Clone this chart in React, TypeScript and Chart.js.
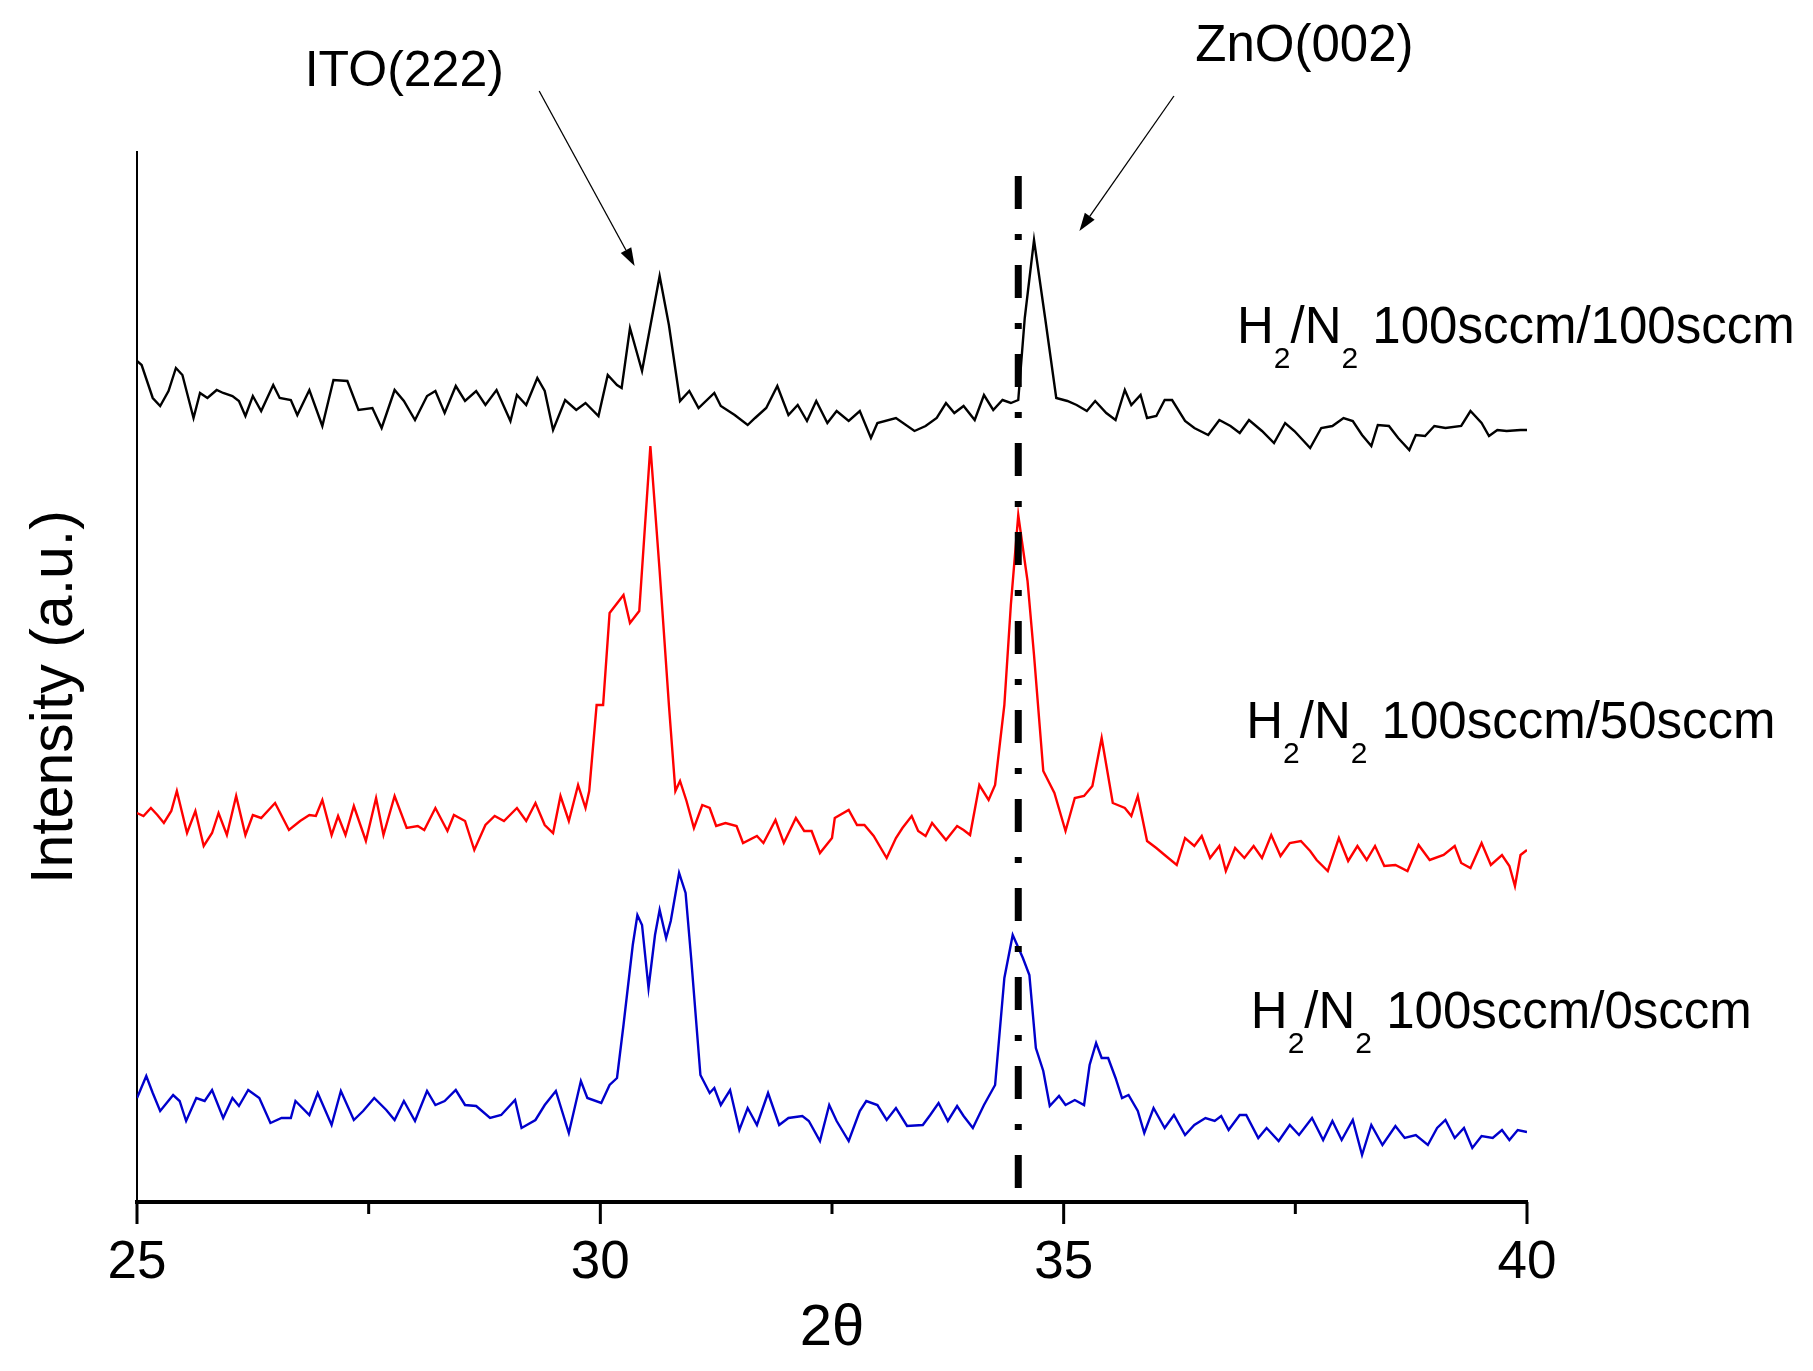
import React, { useEffect, useRef } from 'react';
import { Chart, registerables } from 'chart.js';

Chart.register(...registerables);

const FONT = '"Liberation Sans", Arial, sans-serif';

// x axis ticks (2θ, degrees)
const majorTicks = [25, 30, 35, 40];
const minorTicks = [27.5, 32.5, 37.5];

// H2/N2 flow of each sample, top to bottom
const gasFlows = ['100sccm/100sccm', '100sccm/50sccm', '100sccm/0sccm'];
const traceColors = ['#000000', '#ff0000', '#0000cc'];

// [2θ, intensity (a.u., offset per trace)]
const flow100: [number, number][] = [
  [25.0, 841], [25.05, 837], [25.17, 804], [25.25, 796], [25.34, 811], [25.42, 834], [25.49, 827], [25.61, 784],
  [25.68, 809], [25.76, 804], [25.86, 812], [25.93, 809], [26.03, 806], [26.1, 801], [26.17, 786], [26.25, 806],
  [26.34, 791], [26.47, 817], [26.54, 804], [26.66, 802], [26.73, 787], [26.86, 812], [27.0, 776], [27.12, 822],
  [27.27, 821], [27.39, 792], [27.54, 794], [27.64, 774], [27.78, 812], [27.88, 801], [28.0, 782], [28.13, 806],
  [28.22, 811], [28.32, 789], [28.44, 816], [28.54, 801], [28.66, 811], [28.76, 797], [28.88, 812], [29.03, 781],
  [29.1, 807], [29.2, 797], [29.32, 824], [29.4, 811], [29.49, 772], [29.62, 802], [29.74, 792], [29.84, 799],
  [29.98, 786], [30.08, 827], [30.18, 817], [30.23, 814], [30.32, 874], [30.45, 831], [30.64, 926], [30.74, 877],
  [30.86, 801], [30.96, 811], [31.06, 794], [31.23, 809], [31.3, 796], [31.45, 787], [31.59, 777], [31.67, 784],
  [31.79, 794], [31.91, 816], [32.03, 787], [32.13, 797], [32.23, 781], [32.33, 801], [32.45, 779], [32.55, 791],
  [32.68, 781], [32.8, 791], [32.92, 764], [32.99, 779], [33.19, 784], [33.39, 771], [33.51, 776], [33.63, 784],
  [33.73, 799], [33.82, 789], [33.92, 796], [34.04, 782], [34.14, 807], [34.24, 792], [34.34, 802], [34.43, 799],
  [34.51, 802], [34.58, 884], [34.68, 962], [34.8, 884], [34.92, 804], [35.04, 801], [35.14, 797], [35.25, 791],
  [35.34, 801], [35.46, 789], [35.56, 782], [35.66, 812], [35.73, 797], [35.83, 807], [35.9, 784], [36.0, 786],
  [36.09, 802], [36.17, 802], [36.31, 781], [36.41, 774], [36.56, 767], [36.68, 782], [36.8, 776], [36.9, 769],
  [37.0, 782], [37.14, 771], [37.27, 759], [37.39, 779], [37.49, 771], [37.66, 754], [37.78, 774], [37.9, 776],
  [38.02, 784], [38.12, 781], [38.22, 767], [38.32, 756], [38.39, 777], [38.51, 776], [38.61, 764], [38.73, 752],
  [38.8, 767], [38.9, 766], [39.0, 776], [39.12, 774], [39.29, 776], [39.39, 791], [39.51, 779], [39.59, 766],
  [39.68, 772], [39.78, 771], [39.93, 772], [40.0, 772],
];

const flow50: [number, number][] = [
  [25.0, 389], [25.07, 386], [25.15, 394], [25.22, 387], [25.29, 379], [25.37, 391], [25.43, 411], [25.54, 369],
  [25.63, 391], [25.72, 356], [25.81, 369], [25.88, 389], [25.97, 367], [26.07, 406], [26.17, 367], [26.25, 387],
  [26.34, 384], [26.49, 399], [26.64, 372], [26.76, 381], [26.86, 387], [26.93, 386], [27.0, 402], [27.1, 367],
  [27.17, 386], [27.25, 367], [27.34, 396], [27.47, 361], [27.58, 404], [27.66, 367], [27.78, 406], [27.91, 374],
  [28.03, 376], [28.1, 372], [28.22, 394], [28.35, 371], [28.42, 387], [28.54, 381], [28.64, 352], [28.76, 377],
  [28.86, 386], [28.96, 381], [29.1, 394], [29.2, 381], [29.3, 399], [29.4, 377], [29.49, 369], [29.57, 406],
  [29.66, 381], [29.76, 417], [29.84, 394], [29.88, 411], [29.96, 497], [30.03, 497], [30.1, 589], [30.25, 607],
  [30.32, 579], [30.42, 591], [30.54, 756], [30.64, 631], [30.74, 497], [30.81, 411], [30.86, 421], [30.93, 401],
  [31.01, 374], [31.1, 397], [31.18, 394], [31.25, 376], [31.35, 379], [31.47, 376], [31.54, 359], [31.69, 366],
  [31.76, 359], [31.89, 382], [31.98, 359], [32.11, 384], [32.2, 371], [32.28, 371], [32.37, 349], [32.5, 364],
  [32.53, 384], [32.68, 392], [32.77, 377], [32.85, 377], [32.95, 366], [33.09, 344], [33.19, 364], [33.26, 374],
  [33.36, 386], [33.43, 371], [33.51, 366], [33.58, 379], [33.73, 362], [33.85, 376], [33.92, 372], [33.99, 367],
  [34.09, 417], [34.19, 402], [34.26, 417], [34.36, 497], [34.43, 597], [34.51, 687], [34.61, 621], [34.68, 547],
  [34.78, 431], [34.9, 409], [35.02, 371], [35.12, 404], [35.22, 406], [35.31, 416], [35.41, 464], [35.53, 399],
  [35.66, 394], [35.73, 386], [35.8, 406], [35.9, 361], [36.0, 354], [36.09, 347], [36.22, 337], [36.31, 364],
  [36.41, 356], [36.49, 366], [36.58, 344], [36.68, 356], [36.75, 331], [36.85, 354], [36.95, 344], [37.05, 356],
  [37.14, 344], [37.24, 367], [37.34, 346], [37.44, 359], [37.56, 361], [37.66, 351], [37.73, 342], [37.85, 331],
  [37.97, 364], [38.07, 341], [38.17, 356], [38.27, 342], [38.36, 356], [38.46, 336], [38.58, 337], [38.71, 331],
  [38.83, 357], [38.95, 342], [39.1, 347], [39.22, 356], [39.29, 339], [39.39, 334], [39.51, 359], [39.61, 337],
  [39.73, 347], [39.81, 336], [39.87, 316], [39.93, 347], [40.0, 352],
];

const flow0: [number, number][] = [
  [25.0, 104], [25.1, 126], [25.17, 109], [25.25, 91], [25.32, 99], [25.39, 107], [25.46, 101], [25.53, 81],
  [25.64, 104], [25.73, 101], [25.81, 112], [25.93, 84], [26.03, 104], [26.1, 96], [26.2, 112], [26.32, 104],
  [26.44, 79], [26.56, 84], [26.66, 84], [26.71, 101], [26.86, 87], [26.95, 109], [27.1, 77], [27.2, 111],
  [27.34, 82], [27.44, 91], [27.56, 104], [27.69, 92], [27.78, 82], [27.88, 101], [28.0, 81], [28.13, 111],
  [28.22, 97], [28.32, 101], [28.44, 112], [28.54, 97], [28.66, 96], [28.81, 84], [28.93, 87], [29.08, 102],
  [29.15, 74], [29.3, 82], [29.4, 97], [29.52, 111], [29.66, 69], [29.79, 121], [29.86, 104], [30.01, 99],
  [30.1, 117], [30.18, 124], [30.25, 177], [30.35, 257], [30.4, 287], [30.45, 277], [30.52, 214], [30.59, 267],
  [30.64, 292], [30.71, 264], [30.76, 281], [30.85, 329], [30.92, 309], [30.98, 244], [31.08, 127], [31.18, 109],
  [31.23, 114], [31.3, 97], [31.4, 112], [31.5, 72], [31.59, 94], [31.69, 77], [31.81, 109], [31.93, 77],
  [32.03, 84], [32.18, 86], [32.25, 81], [32.37, 61], [32.47, 97], [32.55, 81], [32.68, 61], [32.8, 91],
  [32.87, 101], [32.99, 97], [33.09, 82], [33.19, 94], [33.31, 76], [33.48, 77], [33.56, 87], [33.65, 99],
  [33.75, 81], [33.85, 96], [33.92, 86], [34.02, 74], [34.14, 97], [34.26, 117], [34.36, 224], [34.45, 267],
  [34.56, 244], [34.63, 227], [34.7, 154], [34.78, 131], [34.85, 96], [34.95, 106], [35.02, 97], [35.12, 102],
  [35.22, 97], [35.28, 137], [35.35, 159], [35.41, 144], [35.48, 144], [35.56, 124], [35.63, 104], [35.7, 107],
  [35.8, 91], [35.87, 69], [35.97, 94], [36.09, 74], [36.19, 87], [36.31, 67], [36.41, 77], [36.53, 84],
  [36.63, 81], [36.7, 86], [36.78, 72], [36.9, 87], [36.97, 87], [37.1, 64], [37.19, 74], [37.32, 61],
  [37.44, 77], [37.54, 67], [37.68, 84], [37.8, 62], [37.9, 81], [38.0, 62], [38.12, 82], [38.22, 47],
  [38.32, 77], [38.44, 57], [38.58, 76], [38.68, 64], [38.8, 67], [38.93, 57], [39.03, 74], [39.12, 82],
  [39.22, 64], [39.32, 74], [39.41, 54], [39.51, 66], [39.63, 64], [39.73, 72], [39.81, 62], [39.9, 72],
  [40.0, 70],
];

const traces = [flow100, flow50, flow0];

// reference position of ZnO(002)
const zno002Angle = 34.51;

// annotation anchors in data units [2θ, intensity]
const labelAnchors: [number, number][] = [[36.87, 859], [36.97, 464], [37.02, 174]];
const itoText: [number, number] = [26.81, 1116];
const itoArrow: [number, number, number, number] = [29.34, 1111, 30.37, 936];
const znoText: [number, number] = [36.42, 1141];
const znoArrow: [number, number, number, number] = [36.19, 1106, 35.17, 971];

function drawArrow(ctx: CanvasRenderingContext2D, x0: number, y0: number, x1: number, y1: number) {
  const a = Math.atan2(y1 - y0, x1 - x0);
  const len = 18;
  const hw = 6;
  const bx = x1 - len * Math.cos(a);
  const by = y1 - len * Math.sin(a);
  ctx.beginPath();
  ctx.moveTo(x0, y0);
  ctx.lineTo(bx, by);
  ctx.stroke();
  ctx.beginPath();
  ctx.moveTo(x1, y1);
  ctx.lineTo(bx + hw * Math.sin(a), by - hw * Math.cos(a));
  ctx.lineTo(bx - hw * Math.sin(a), by + hw * Math.cos(a));
  ctx.closePath();
  ctx.fill();
}

function drawGasLabel(ctx: CanvasRenderingContext2D, x: number, y: number, flow: string) {
  const parts: [string, boolean][] = [['H', false], ['2', true], ['/N', false], ['2', true], [' ' + flow, false]];
  let cx = x;
  parts.forEach(([t, sub]) => {
    ctx.font = sub ? `30px ${FONT}` : `51px ${FONT}`;
    ctx.fillText(t, cx, sub ? y + 25 : y);
    cx += ctx.measureText(t).width;
  });
}

const annotations = {
  id: 'annotations',
  afterDatasetsDraw(chart: any) {
    const { ctx, chartArea } = chart;
    const xs = chart.scales.x;
    const ys = chart.scales.y;
    const px = (v: number) => xs.getPixelForValue(v);
    const py = (v: number) => ys.getPixelForValue(v);
    const bottom = chartArea.bottom;

    ctx.save();
    ctx.strokeStyle = '#000';
    ctx.fillStyle = '#000';

    // tick marks
    ctx.lineWidth = 3;
    majorTicks.forEach((v) => {
      ctx.beginPath();
      ctx.moveTo(px(v), bottom);
      ctx.lineTo(px(v), bottom + 22);
      ctx.stroke();
    });
    minorTicks.forEach((v) => {
      ctx.beginPath();
      ctx.moveTo(px(v), bottom);
      ctx.lineTo(px(v), bottom + 12);
      ctx.stroke();
    });

    // dash-dot reference line
    ctx.save();
    ctx.lineWidth = 7;
    ctx.setLineDash([33, 25, 6, 25]);
    ctx.beginPath();
    ctx.moveTo(px(zno002Angle), py(1026));
    ctx.lineTo(px(zno002Angle), bottom);
    ctx.stroke();
    ctx.restore();

    // peak arrows
    ctx.lineWidth = 1.3;
    drawArrow(ctx, px(itoArrow[0]), py(itoArrow[1]), px(itoArrow[2]), py(itoArrow[3]));
    drawArrow(ctx, px(znoArrow[0]), py(znoArrow[1]), px(znoArrow[2]), py(znoArrow[3]));

    ctx.textAlign = 'left';
    ctx.textBaseline = 'alphabetic';
    ctx.font = `50px ${FONT}`;
    ctx.fillText('ITO(222)', px(itoText[0]), py(itoText[1]));
    ctx.font = `51px ${FONT}`;
    ctx.fillText('ZnO(002)', px(znoText[0]), py(znoText[1]));

    gasFlows.forEach((flow, i) => {
      drawGasLabel(ctx, px(labelAnchors[i][0]), py(labelAnchors[i][1]), flow);
    });

    // axis titles
    ctx.textAlign = 'center';
    ctx.font = `58px ${FONT}`;
    ctx.fillText('2θ', (chartArea.left + chartArea.right) / 2, bottom + 143);

    ctx.save();
    ctx.translate(72, py(505));
    ctx.rotate(-Math.PI / 2);
    ctx.font = `59px ${FONT}`;
    ctx.fillText('Intensity (a.u.)', 0, 0);
    ctx.restore();

    ctx.restore();
  },
};

const App: React.FC = () => {
  const canvasRef = useRef<HTMLCanvasElement>(null);

  useEffect(() => {
    if (!canvasRef.current) return;
    const chart = new Chart(canvasRef.current, {
      type: 'line',
      data: {
        datasets: traces.map((tr, i) => ({
          label: 'H2/N2 ' + gasFlows[i],
          data: tr.map(([x, y]) => ({ x, y })),
          borderColor: traceColors[i],
          borderWidth: 2.4,
          pointRadius: 0,
          tension: 0,
          fill: false,
        })),
      },
      options: {
        responsive: false,
        animation: false,
        devicePixelRatio: 1,
        layout: { padding: { top: 152, right: 286, left: 0, bottom: 0 } },
        plugins: {
          legend: { display: false },
          tooltip: { enabled: false },
        },
        scales: {
          x: {
            type: 'linear',
            min: 25,
            max: 40,
            grid: { display: false, drawTicks: false },
            border: { display: true, color: '#000', width: 4 },
            ticks: {
              stepSize: 5,
              padding: 30,
              color: '#000',
              font: { family: FONT, size: 53 },
              callback: (v: any) => (majorTicks.includes(Number(v)) ? String(v) : ''),
            },
            afterFit: (s: any) => {
              s.height = 169;
            },
          },
          y: {
            type: 'linear',
            min: 0,
            max: 1050,
            grid: { display: false, drawTicks: false },
            border: { display: true, color: '#000', width: 2 },
            ticks: { display: false },
            afterFit: (s: any) => {
              s.width = 137;
            },
          },
        },
      },
      plugins: [annotations],
    });
    return () => {
      chart.destroy();
    };
  }, []);

  return (
    <div style={{ position: 'absolute', left: 0, top: 0, width: 1813, height: 1371, background: '#fff' }}>
      <canvas ref={canvasRef} width={1813} height={1371} />
    </div>
  );
};

export default App;
